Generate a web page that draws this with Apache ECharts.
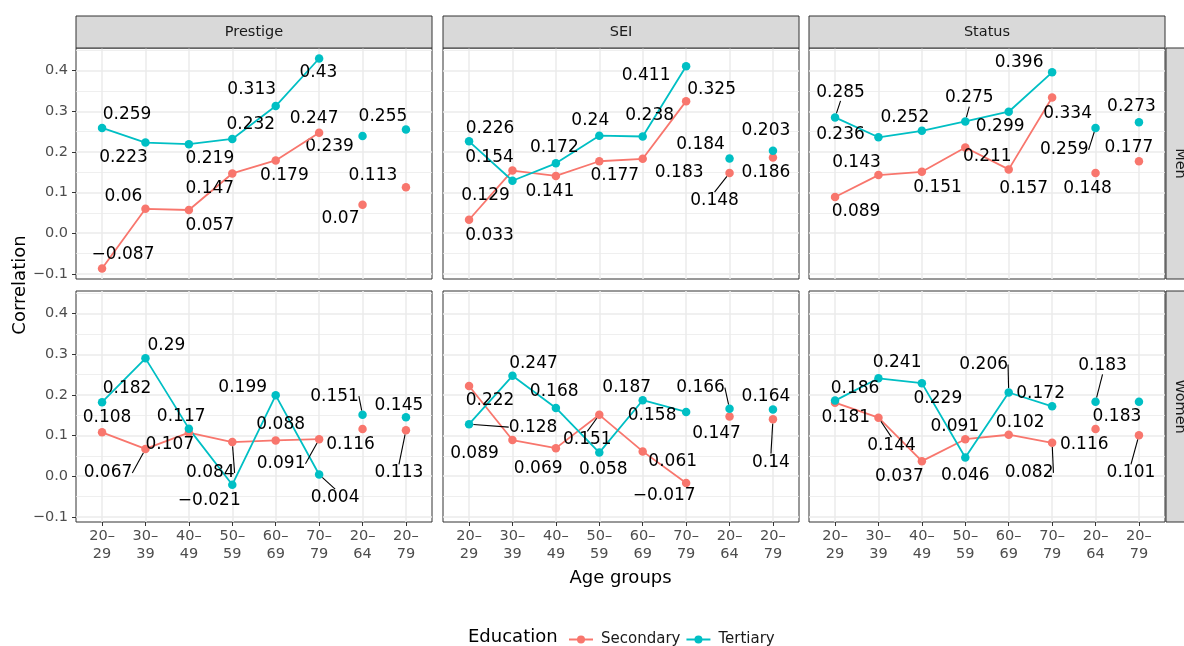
<!DOCTYPE html>
<html><head><meta charset="utf-8">
<script src="https://cdn.jsdelivr.net/npm/echarts@6/dist/echarts.min.js"></script>
<style>html,body{margin:0;padding:0;background:#fff}#c{width:1184px;height:646px}</style>
</head><body><div id="c"></div>
<script>
// ---------- data ----------
const ageGroups = ['20–29','30–39','40–49','50–59','60–69','70–79','20–64','20–79'];
const measures = ['Prestige','SEI','Status'];
const sexes = ['Men','Women'];
const educationGroups = ['Secondary','Tertiary'];
const yTicks = [-0.1,0,0.1,0.2,0.3,0.4];
const yMinorTicks = [-0.05,0.05,0.15,0.25,0.35,0.45];

const prestigeMenSecondary = [-0.087,0.06,0.057,0.147,0.179,0.247,0.07,0.113];
const prestigeMenTertiary  = [0.259,0.223,0.219,0.232,0.313,0.43,0.239,0.255];
const seiMenSecondary      = [0.033,0.154,0.141,0.177,0.183,0.325,0.148,0.186];
const seiMenTertiary       = [0.226,0.129,0.172,0.24,0.238,0.411,0.184,0.203];
const statusMenSecondary   = [0.089,0.143,0.151,0.211,0.157,0.334,0.148,0.177];
const statusMenTertiary    = [0.285,0.236,0.252,0.275,0.299,0.396,0.259,0.273];
const prestigeWomenSecondary = [0.108,0.067,0.107,0.084,0.088,0.091,0.116,0.113];
const prestigeWomenTertiary  = [0.182,0.29,0.117,-0.021,0.199,0.004,0.151,0.145];
const seiWomenSecondary      = [0.222,0.089,0.069,0.151,0.061,-0.017,0.147,0.14];
const seiWomenTertiary       = [0.128,0.247,0.168,0.058,0.187,0.158,0.166,0.164];
const statusWomenSecondary   = [0.181,0.144,0.037,0.091,0.102,0.082,0.116,0.101];
const statusWomenTertiary    = [0.186,0.241,0.229,0.046,0.206,0.172,0.183,0.183];

// ---------- label placement (layout only) ----------
const labelOffsets = [
  [[[21,-13.6],[-22,-12],[21,15.5],[-22.5,15],[8.7,15],[-5,-14],[-22,14],[-33,-12]],
   [[25,-13],[-22,14.5],[21,14],[18.5,-14],[-24,-16],[-0.7,14],[-33,10.7],[-23,-13]]],
  [[[20.5,16],[-23,-13.4],[-6,15.6],[15.5,14.3],[36.5,13.4],[25.5,-12],[-15,27.5],[-7,15.4]],
   [[21,-12.4],[-27,15],[-1.5,-16],[-9,-15],[7,-20.5],[-40,9.5],[-29,-14],[-7,-20]]],
  [[[21,15],[-22,-12.8],[15.7,15.4],[22,9],[15,19.6],[15.5,16.5],[-8,15.2],[-10,-14]],
   [[5.5,-25],[-38,-2.5],[-17,-13.5],[4,-23.4],[-8.5,15],[-33,-10],[-31.3,22],[-7.5,-15.3]]],
  [[[5,-15],[-37.5,24],[-19,12],[-22,31],[5,-16],[-38,24.6],[-12,16],[-7,42.6]],
   [[25,-14],[21,-13],[-7.7,-12.5],[-23,16],[-33,-7.6],[16,23],[-28,-18.6],[-7,-12]]],
  [[[21,14.8],[-38,14],[-17.7,20],[-12,25],[30,10],[-22,13],[-13,17],[-2,42.8]],
   [[64,3],[21,-12.7],[-1.7,-16],[4,17],[-16,-12.5],[-34,4],[-29,-21],[-7,-13]]],
  [[[10.7,15],[13,28],[-22.5,15],[-10.5,-12.5],[11.5,-12],[-23,30],[-11.3,16],[-8,37.7]],
   [[20,-12],[18.7,-16],[16,15.7],[0,18],[-25,-28],[-11.5,-12.5],[7,-36],[-22,14.5]]]
];
const leaderLines = [
  [[],[]],
  [[6],[]],
  [[],[0,3,6]],
  [[1,3,5,7],[5,6]],
  [[3,7],[0,6]],
  [[1,5,7],[4,6]]
];

// ---------- build ----------
const panelData = [
  [prestigeMenSecondary, prestigeMenTertiary],
  [seiMenSecondary, seiMenTertiary],
  [statusMenSecondary, statusMenTertiary],
  [prestigeWomenSecondary, prestigeWomenTertiary],
  [seiWomenSecondary, seiWomenTertiary],
  [statusWomenSecondary, statusWomenTertiary]
];
const FONT = 'DejaVu Sans';
const colors = ['#F8766D','#00BFC4'];
const panelLeft = [76, 443, 809], panelWidth = 356;
const panelTop = [48, 291], panelHeight = 231;

const allVals = [].concat(...panelData.map(p => p[0].concat(p[1])));
const dMin = Math.min(...allVals), dMax = Math.max(...allVals);
const yMin = dMin - 0.05 * (dMax - dMin), yMax = dMax + 0.05 * (dMax - dMin);
const xIdx = ageGroups.map((_, i) => i);

const grids = [], xAxes = [], yAxes = [], series = [], seriesMeta = [];
for (let p = 0; p < 6; p++) {
  const row = Math.floor(p / 3), col = p % 3;
  grids.push({left: panelLeft[col], top: panelTop[row], width: panelWidth, height: panelHeight,
    show: true, backgroundColor: '#fff', borderColor: '#333333', borderWidth: 1});
  xAxes.push({type: 'value', gridIndex: p, min: -0.6, max: 7.6, position: 'bottom',
    axisLine: {show: false, onZero: false},
    axisTick: {show: row === 1, customValues: xIdx, length: 4, lineStyle: {color: '#333333', width: 1}},
    axisLabel: {show: row === 1, customValues: xIdx, margin: 5,
      formatter: v => ageGroups[Math.round(v)].replace('–', '–\n'),
      color: '#4D4D4D', fontFamily: FONT, fontSize: 14.5, lineHeight: 18, align: 'center'},
    splitLine: {show: true, lineStyle: {color: '#EBEBEB', width: 1.5}}});
  yAxes.push({type: 'value', gridIndex: p, min: yMin, max: yMax, position: 'left',
    axisLine: {show: false, onZero: false},
    axisTick: {show: col === 0, customValues: yTicks, length: 4, lineStyle: {color: '#333333', width: 1}},
    axisLabel: {show: col === 0, customValues: yTicks, margin: 8,
      formatter: v => (v < -1e-9 ? '−' + Math.abs(v).toFixed(1) : Math.abs(v).toFixed(1)),
      color: '#4D4D4D', fontFamily: FONT, fontSize: 14.5},
    splitLine: {show: true, lineStyle: {color: '#EBEBEB', width: 1.5}}});
  yAxes.push({type: 'value', gridIndex: p, min: yMin, max: yMax, position: 'left',
    axisLine: {show: false, onZero: false}, axisLabel: {show: false},
    axisTick: {show: false, customValues: yMinorTicks},
    splitLine: {show: true, lineStyle: {color: '#EBEBEB', width: 0.8}}});

  for (let g = 0; g < 2; g++) {
    const vals = panelData[p][g];
    const mk = i => {
      const item = {value: [i, vals[i]]};
      if (leaderLines[p][g].includes(i)) item.labelLine = {show: true};
      return item;
    };
    const common = {
      name: educationGroups[g], xAxisIndex: p, yAxisIndex: 2 * p,
      symbol: 'circle', symbolSize: 8.5,
      itemStyle: {color: colors[g], opacity: 1},
      label: {show: true, position: 'inside', color: '#000', fontFamily: FONT, fontSize: 17, opacity: 1,
        formatter: prm => String(prm.value[1]).replace('-', '−')},
      labelLine: {show: false, lineStyle: {color: '#000', width: 1.1, opacity: 1}},
      labelLayout: prm => {
        const m = seriesMeta[prm.seriesIndex];
        const o = labelOffsets[m.p][m.g][m.start + prm.dataIndex];
        return {dx: o[0], dy: o[1]};
      },
      emphasis: {disabled: true}, silent: true
    };
    series.push(Object.assign({type: 'line', data: [0,1,2,3,4,5].map(mk), showSymbol: true, showAllSymbol: true,
      lineStyle: {color: colors[g], width: 1.8}}, common));
    seriesMeta.push({p, g, start: 0});
    series.push(Object.assign({type: 'scatter', data: [6,7].map(mk)}, common));
    seriesMeta.push({p, g, start: 6});
  }
}

const graphics = [];
measures.forEach((m, c) => {
  graphics.push({type: 'rect', shape: {x: panelLeft[c], y: 16, width: panelWidth, height: 32},
    style: {fill: '#D9D9D9', stroke: '#333333', lineWidth: 1}, z: 1});
  graphics.push({type: 'text', x: panelLeft[c] + panelWidth / 2, y: 32, z: 2,
    style: {text: m, font: '14.5px "DejaVu Sans"', fill: '#1A1A1A', align: 'center', verticalAlign: 'middle',
      textAlign: 'center', textVerticalAlign: 'middle'}});
});
sexes.forEach((s, r) => {
  graphics.push({type: 'rect', shape: {x: 1166, y: panelTop[r], width: 32, height: panelHeight},
    style: {fill: '#D9D9D9', stroke: '#333333', lineWidth: 1}, z: 1});
  graphics.push({type: 'text', x: 1180, y: panelTop[r] + panelHeight / 2, rotation: -Math.PI / 2, z: 2,
    style: {text: s, font: '14.5px "DejaVu Sans"', fill: '#1A1A1A', align: 'center', verticalAlign: 'middle',
      textAlign: 'center', textVerticalAlign: 'middle'}});
});
graphics.push({type: 'text', x: 20, y: 285, rotation: Math.PI / 2,
  style: {text: 'Correlation', font: '18px "DejaVu Sans"', fill: '#000', align: 'center', verticalAlign: 'middle',
    textAlign: 'center', textVerticalAlign: 'middle'}});
graphics.push({type: 'text', x: 620.5, y: 578,
  style: {text: 'Age groups', font: '18px "DejaVu Sans"', fill: '#000', align: 'center', verticalAlign: 'middle',
    textAlign: 'center', textVerticalAlign: 'middle'}});
graphics.push({type: 'text', x: 468, y: 637,
  style: {text: 'Education', font: '18px "DejaVu Sans"', fill: '#000', align: 'left', verticalAlign: 'middle',
    textAlign: 'left', textVerticalAlign: 'middle'}});

const chart = echarts.init(document.getElementById('c'), null, {renderer: 'canvas'});
chart.setOption({
  animation: false,
  backgroundColor: '#fff',
  grid: grids, xAxis: xAxes, yAxis: yAxes, series: series,
  legend: {data: educationGroups, left: 563, top: 627, itemWidth: 24, itemHeight: 10, itemGap: 5,
    textStyle: {fontFamily: FONT, fontSize: 15, color: '#1A1A1A', padding: [0, 0, 0, 3]}},
  graphic: graphics
});
</script></body></html>
